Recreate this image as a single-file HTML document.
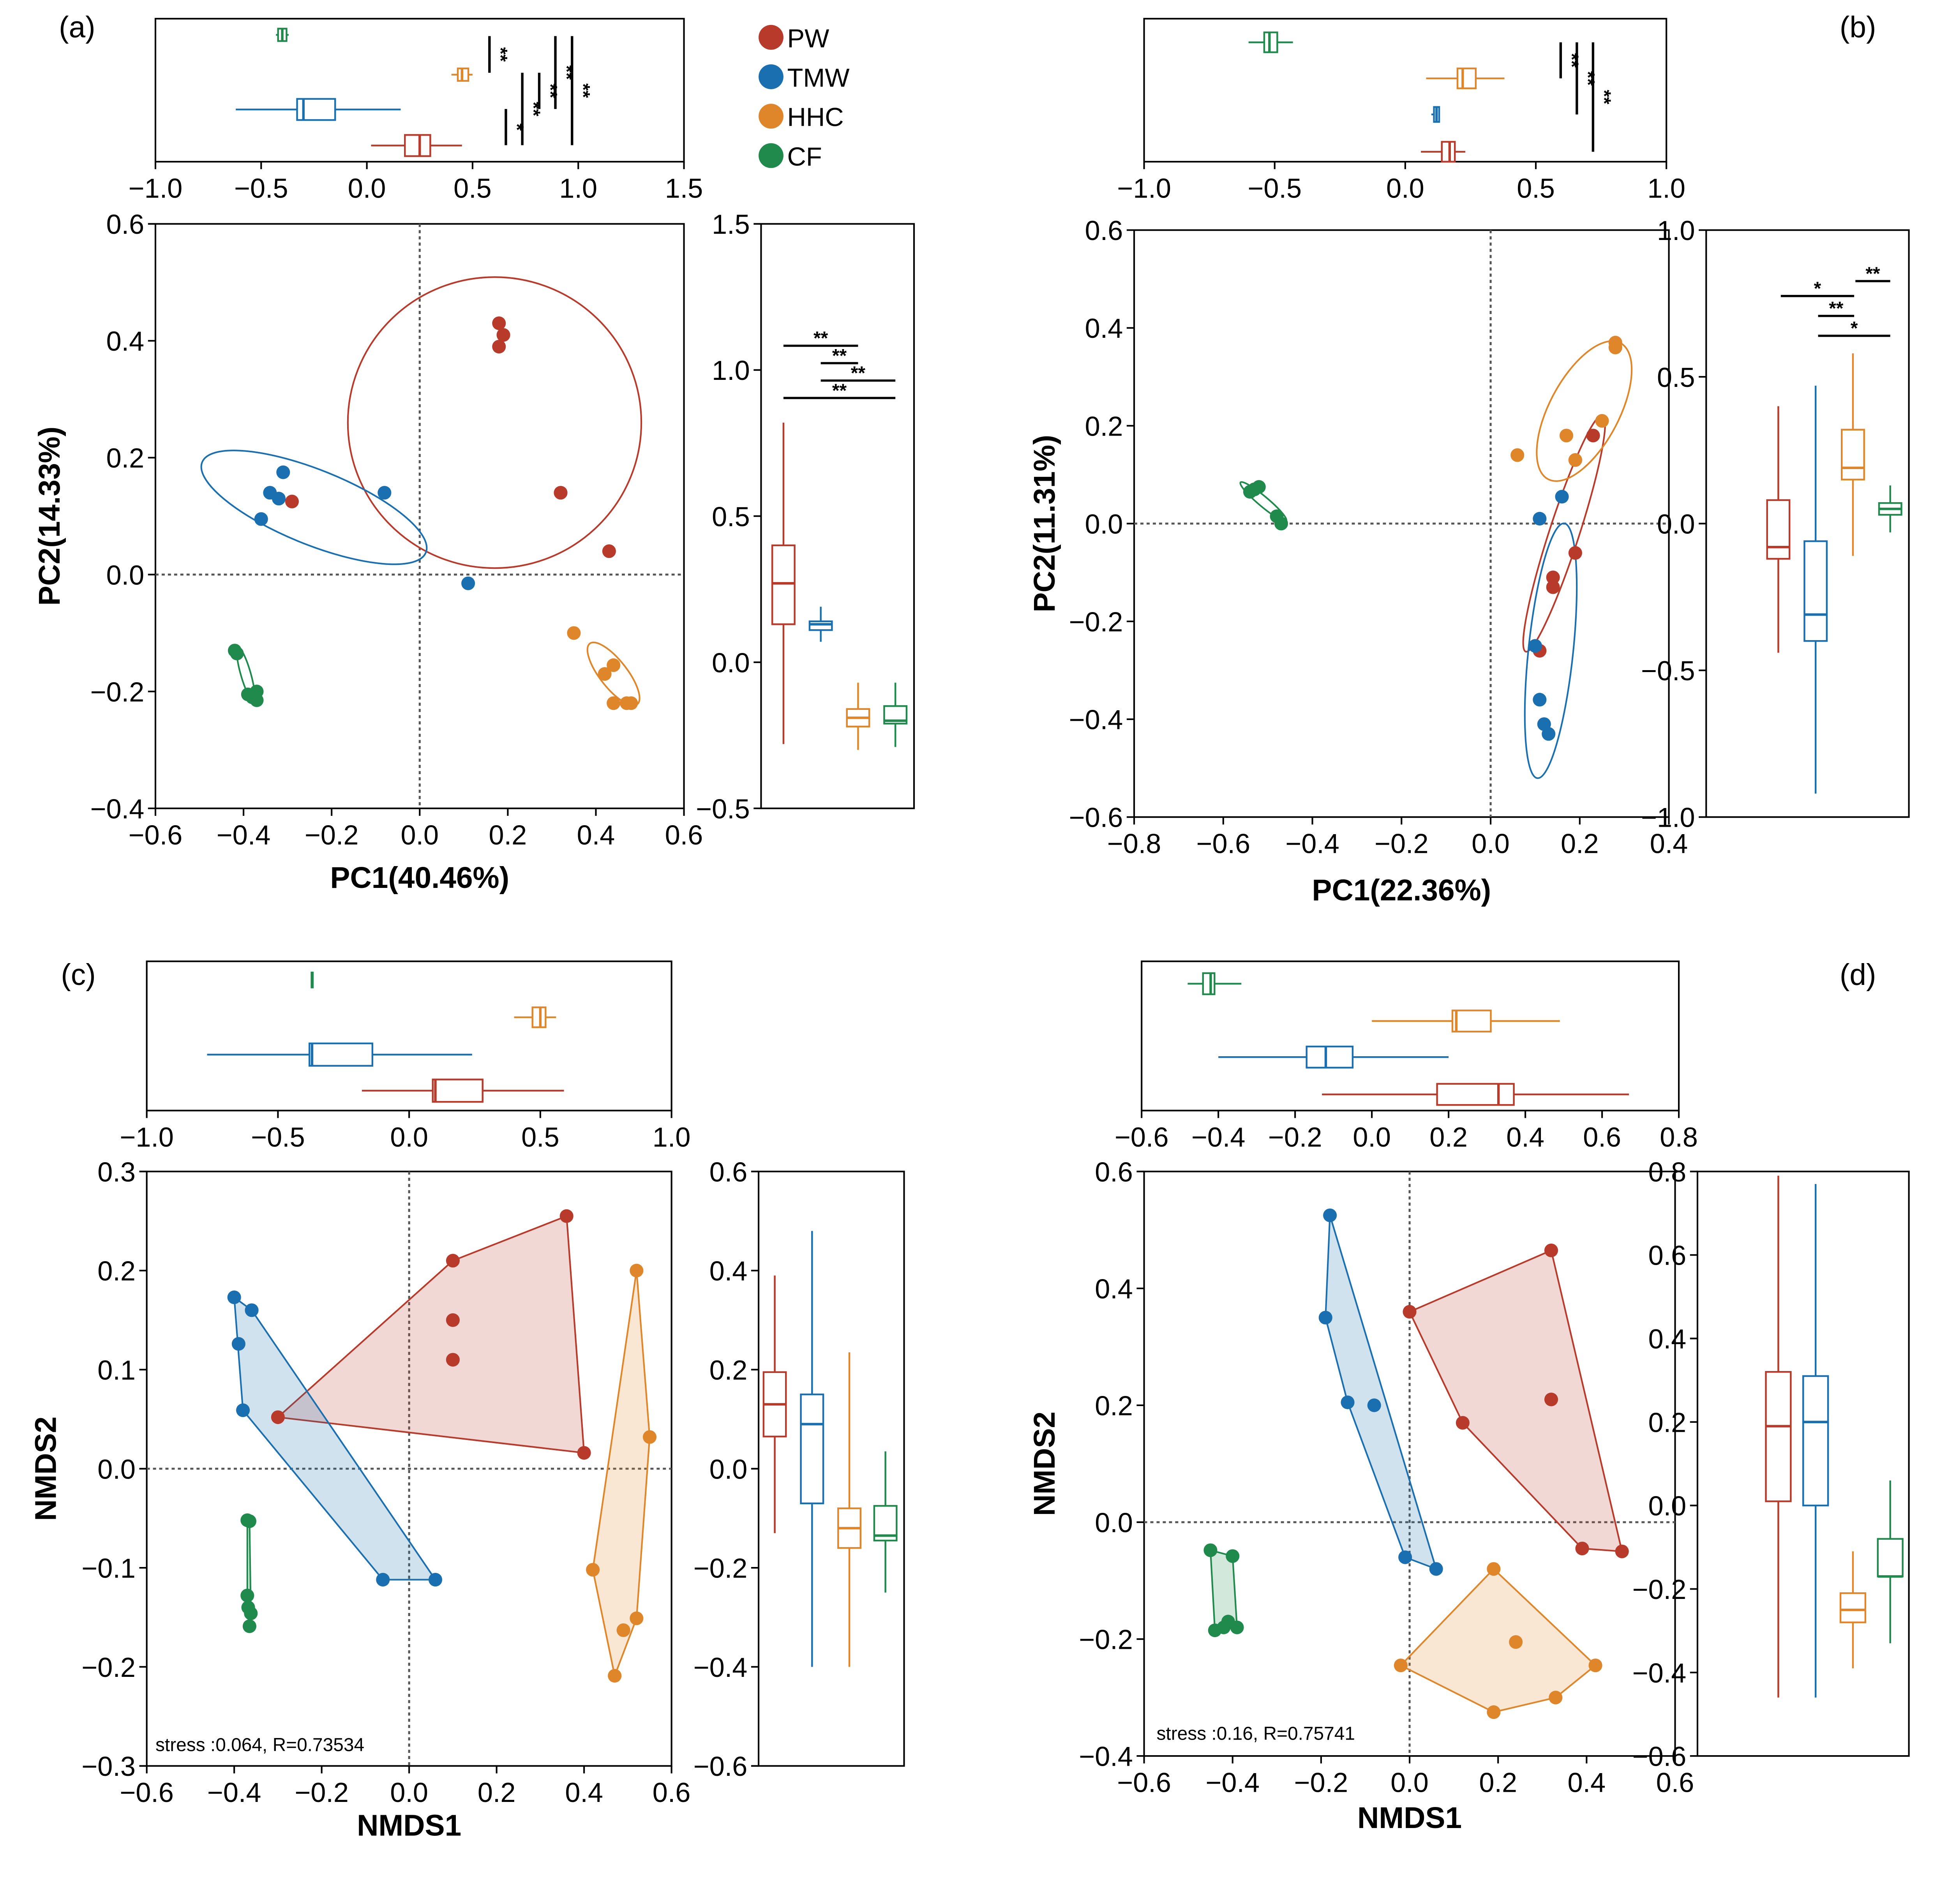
<!DOCTYPE html>
<html><head><meta charset="utf-8">
<style>
html,body{margin:0;padding:0;background:#fff;}
svg{display:block;font-family:"Liberation Sans",Arial,sans-serif;}
</style></head>
<body>
<svg id="chart" width="5139" height="4887" viewBox="0 0 1610 1531" xmlns="http://www.w3.org/2000/svg"></svg>
<script>
// ---------- DATA ----------
const groups = ['PW','TMW','HHC','CF'];
const colors = ['#b83a2b','#1a6fb0','#e0862a','#1f8a4c'];

// Panel (a) PCoA scatter
const aPW  = [[0.18,0.43],[0.19,0.41],[0.18,0.39],[0.32,0.14],[0.43,0.04],[-0.29,0.125]];
const aTMW = [[-0.31,0.175],[-0.34,0.14],[-0.32,0.13],[-0.36,0.095],[-0.08,0.14],[0.11,-0.015]];
const aHHC = [[0.35,-0.10],[0.42,-0.17],[0.44,-0.155],[0.44,-0.22],[0.47,-0.22],[0.48,-0.22]];
const aCF  = [[-0.42,-0.13],[-0.415,-0.135],[-0.39,-0.205],[-0.37,-0.20],[-0.37,-0.215],[-0.38,-0.21]];
// ellipses: [cx, cy (data), rx, ry (px), rotation deg]
const aEll = [[0.17,0.26,118,117,0],[-0.24,0.115,97,30,22],[0.44,-0.17,31,11,52],[-0.395,-0.17,22,4,74]];
// box stats [whiskLo, q1, med, q3, whiskHi]
const aTop = [[0.02,0.18,0.25,0.30,0.45],[-0.62,-0.33,-0.30,-0.15,0.16],[0.40,0.43,0.45,0.48,0.50],[-0.43,-0.42,-0.40,-0.38,-0.37]];
const aRight = [[-0.28,0.13,0.27,0.40,0.82],[0.07,0.11,0.13,0.14,0.19],[-0.30,-0.22,-0.19,-0.16,-0.07],[-0.29,-0.21,-0.20,-0.15,-0.07]];

// Panel (b)
const bPW  = [[0.23,0.18],[0.19,0.13],[0.19,-0.06],[0.14,-0.11],[0.14,-0.13],[0.11,-0.26]];
const bTMW = [[0.11,0.01],[0.16,0.055],[0.10,-0.25],[0.11,-0.36],[0.12,-0.41],[0.13,-0.43]];
const bHHC = [[0.06,0.14],[0.17,0.18],[0.19,0.13],[0.25,0.21],[0.28,0.37],[0.28,0.36]];
const bCF  = [[-0.53,0.07],[-0.52,0.075],[-0.54,0.065],[-0.48,0.015],[-0.47,0.0],[-0.53,0.07]];
const bEll = [[0.165,-0.02,12,100,18],[0.135,-0.26,18,103,6],[0.21,0.23,28,62,28],[-0.51,0.045,24,4,40]];
const bTop = [[0.06,0.14,0.17,0.19,0.23],[0.10,0.11,0.12,0.13,0.13],[0.08,0.20,0.22,0.27,0.38],[-0.60,-0.54,-0.52,-0.49,-0.43]];
const bRight = [[-0.44,-0.12,-0.08,0.08,0.40],[-0.92,-0.40,-0.31,-0.06,0.47],[-0.11,0.15,0.19,0.32,0.58],[-0.03,0.03,0.05,0.07,0.13]];

// Panel (c) NMDS
const cPW  = [[0.36,0.255],[0.1,0.21],[0.1,0.15],[0.1,0.11],[-0.3,0.052],[0.4,0.016]];
const cTMW = [[-0.4,0.173],[-0.36,0.16],[-0.39,0.126],[-0.38,0.059],[-0.06,-0.112],[0.06,-0.112]];
const cHHC = [[0.52,0.2],[0.55,0.032],[0.42,-0.102],[0.52,-0.151],[0.49,-0.163],[0.47,-0.209]];
const cCF  = [[-0.37,-0.052],[-0.365,-0.053],[-0.37,-0.128],[-0.368,-0.14],[-0.362,-0.146],[-0.365,-0.159]];
const cTop = [[-0.18,0.09,0.10,0.28,0.59],[-0.77,-0.38,-0.37,-0.14,0.24],[0.40,0.47,0.50,0.52,0.56],[-0.375,-0.372,-0.37,-0.368,-0.365]];
const cRight = [[-0.13,0.065,0.13,0.195,0.39],[-0.40,-0.07,0.09,0.15,0.48],[-0.40,-0.16,-0.12,-0.08,0.235],[-0.25,-0.145,-0.135,-0.075,0.035]];

// Panel (d)
const dPW  = [[0.32,0.465],[0.0,0.36],[0.32,0.21],[0.12,0.17],[0.39,-0.045],[0.48,-0.05]];
const dTMW = [[-0.18,0.525],[-0.19,0.35],[-0.14,0.205],[-0.08,0.2],[-0.01,-0.06],[0.06,-0.08]];
const dHHC = [[0.19,-0.08],[0.24,-0.205],[0.42,-0.245],[-0.02,-0.245],[0.33,-0.3],[0.19,-0.325]];
const dCF  = [[-0.45,-0.048],[-0.4,-0.058],[-0.41,-0.17],[-0.44,-0.185],[-0.39,-0.18],[-0.42,-0.18]];
const dTop = [[-0.13,0.17,0.33,0.37,0.67],[-0.40,-0.17,-0.12,-0.05,0.20],[0.0,0.21,0.22,0.31,0.49],[-0.48,-0.44,-0.42,-0.41,-0.34]];
const dRight = [[-0.46,0.01,0.19,0.32,0.79],[-0.46,0.0,0.20,0.31,0.77],[-0.39,-0.28,-0.25,-0.21,-0.11],[-0.33,-0.17,-0.17,-0.08,0.06]];

// Tick labels
const aXT=[-0.6,-0.4,-0.2,0,0.2,0.4,0.6], aYT=[-0.4,-0.2,0,0.2,0.4,0.6], aTopT=[-1,-0.5,0,0.5,1,1.5], aRT=[-0.5,0,0.5,1,1.5];
const bXT=[-0.8,-0.6,-0.4,-0.2,0,0.2,0.4], bYT=[-0.6,-0.4,-0.2,0,0.2,0.4,0.6], bTopT=[-1,-0.5,0,0.5,1], bRT=[-1,-0.5,0,0.5,1];
const cXT=[-0.6,-0.4,-0.2,0,0.2,0.4,0.6], cYT=[-0.3,-0.2,-0.1,0,0.1,0.2,0.3], cTopT=[-1,-0.5,0,0.5,1], cRT=[-0.6,-0.4,-0.2,0,0.2,0.4,0.6];
const dXT=[-0.6,-0.4,-0.2,0,0.2,0.4,0.6], dYT=[-0.4,-0.2,0,0.2,0.4,0.6], dTopT=[-0.6,-0.4,-0.2,0,0.2,0.4,0.6,0.8], dRT=[-0.6,-0.4,-0.2,0,0.2,0.4,0.6,0.8];

// ---------- DRAWING ----------
const svg=document.getElementById('chart');
const NS='http://www.w3.org/2000/svg';
function mk(tag,attrs,parent){const e=document.createElementNS(NS,tag);for(const k in attrs)e.setAttribute(k,attrs[k]);(parent||svg).appendChild(e);return e;}
function lin(d0,d1,p0,p1){return v=>p0+(v-d0)/(d1-d0)*(p1-p0);}
function fmt(v){return (Math.abs(v)<1e-9?'0.0':v.toFixed(1)).replace('-','\u2212');}
function txt(x,y,s,size,anchor,name,extra){const t=mk('text',Object.assign({x:x,y:y,'font-size':size,'text-anchor':anchor||'middle',fill:'#000'},extra||{}));t.textContent=s;


return t;}
function frame(x0,y0,x1,y1,name){const r=mk('rect',{x:x0,y:y0,width:x1-x0,height:y1-y0,fill:'none',stroke:'#000','stroke-width':1.3});

}
function xTicks(ticks,xs,y,name){ticks.forEach(v=>{const x=xs(v);const l=mk('line',{x1:x,x2:x,y1:y,y2:y+6,stroke:'#000','stroke-width':1.3});


txt(x,y+29,fmt(v),22,'middle',name+'-label');});}
function yTicks(ticks,ys,x,name){ticks.forEach(v=>{const y=ys(v);const l=mk('line',{x1:x-6,x2:x,y1:y,y2:y,stroke:'#000','stroke-width':1.3});


txt(x-9,y+8,fmt(v),22,'end',name+'-label');});}
function dotted(x1,y1,x2,y2,name){const l=mk('line',{x1:x1,y1:y1,x2:x2,y2:y2,stroke:'#555','stroke-width':1.6,'stroke-dasharray':'2.5,2.5'});

}
function points(arr,xs,ys,color,name){arr.forEach(p=>{const c=mk('circle',{cx:xs(p[0]),cy:ys(p[1]),r:5.5,fill:color});

});}
function ellipse(e,xs,ys,color,name){const el=mk('ellipse',{cx:0,cy:0,rx:e[2],ry:e[3],fill:'none',stroke:color,'stroke-width':1.3,transform:`translate(${xs(e[0])},${ys(e[1])}) rotate(${e[4]})`});

}
function hull(arr,xs,ys,color,name){let p=arr.map(q=>[xs(q[0]),ys(q[1])]).sort((a,b)=>a[0]-b[0]||a[1]-b[1]);
const cr=(o,a,b)=>(a[0]-o[0])*(b[1]-o[1])-(a[1]-o[1])*(b[0]-o[0]);const lo=[],up=[];
for(const q of p){while(lo.length>=2&&cr(lo[lo.length-2],lo[lo.length-1],q)<=0)lo.pop();lo.push(q);}
for(const q of p.slice().reverse()){while(up.length>=2&&cr(up[up.length-2],up[up.length-1],q)<=0)up.pop();up.push(q);}
const h=lo.slice(0,-1).concat(up.slice(0,-1));
const pg=mk('polygon',{points:h.map(q=>q.join(',')).join(' '),fill:color,'fill-opacity':0.2,stroke:color,'stroke-width':1.3});

}
function hbox(s,xs,yc,h,color,name){const g=mk('g',{stroke:color,'stroke-width':1.4,fill:'none'});


mk('line',{x1:xs(s[0]),x2:xs(s[1]),y1:yc,y2:yc},g);mk('line',{x1:xs(s[3]),x2:xs(s[4]),y1:yc,y2:yc},g);
mk('rect',{x:xs(s[1]),y:yc-h/2,width:Math.max(1,xs(s[3])-xs(s[1])),height:h},g);
mk('line',{x1:xs(s[2]),x2:xs(s[2]),y1:yc-h/2,y2:yc+h/2,'stroke-width':2},g);}
function vbox(s,ys,xc,w,color,name){const g=mk('g',{stroke:color,'stroke-width':1.4,fill:'none'});


mk('line',{y1:ys(s[0]),y2:ys(s[1]),x1:xc,x2:xc},g);mk('line',{y1:ys(s[3]),y2:ys(s[4]),x1:xc,x2:xc},g);
mk('rect',{y:ys(s[3]),x:xc-w/2,height:Math.max(1,ys(s[1])-ys(s[3])),width:w},g);
mk('line',{y1:ys(s[2]),y2:ys(s[2]),x1:xc-w/2,x2:xc+w/2,'stroke-width':2},g);}
function vbr(x,y1,y2,lab,name){const l=mk('line',{x1:x,x2:x,y1:y1,y2:y2,stroke:'#000','stroke-width':2});


const cy=(y1+y2)/2;txt(0,0,lab,15,'middle',name+'-label',{transform:`translate(${x+4},${cy}) rotate(90)`,'font-weight':'bold'});}
function hbr(y,x1,x2,lab,name){const l=mk('line',{x1:x1,x2:x2,y1:y,y2:y,stroke:'#000','stroke-width':1.8});


txt((x1+x2)/2,y-1,lab,15,'middle',name+'-label',{'font-weight':'bold'});}

function panel(P){
  const xs=lin(P.xr[0],P.xr[1],P.m[0],P.m[2]), ys=lin(P.yr[0],P.yr[1],P.m[3],P.m[1]);
  frame(P.m[0],P.m[1],P.m[2],P.m[3],P.id+'-main-plot-frame');
  dotted(xs(0),P.m[1],xs(0),P.m[3],P.id+'-zero-vline');
  dotted(P.m[0],ys(0),P.m[2],ys(0),P.id+'-zero-hline');
  xTicks(P.xt,xs,P.m[3],P.id+'-x-axis');yTicks(P.yt,ys,P.m[0],P.id+'-y-axis');
  if(P.hull){P.series.forEach((s,i)=>hull(s,xs,ys,colors[i],P.id+'-hull-'+groups[i].toLowerCase()));}
  if(P.ell){P.ell.forEach((e,i)=>ellipse(e,xs,ys,colors[i],P.id+'-ellipse-'+groups[i].toLowerCase()));}
  P.series.forEach((s,i)=>points(s,xs,ys,colors[i],P.id+'-point-'+groups[i].toLowerCase()));
  const txs=lin(P.tr[0],P.tr[1],P.t[0],P.t[2]);
  frame(P.t[0],P.t[1],P.t[2],P.t[3],P.id+'-top-box-frame');
  xTicks(P.tt,txs,P.t[3],P.id+'-top-axis');
  const order=[3,2,1,0];order.forEach((gi,k)=>{hbox(P.top[gi],txs,P.tyc[k],P.th[k],colors[gi],P.id+'-top-boxplot-'+groups[gi].toLowerCase());});
  const rys=lin(P.rr[0],P.rr[1],P.r[3],P.r[1]);
  frame(P.r[0],P.r[1],P.r[2],P.r[3],P.id+'-right-box-frame');
  yTicks(P.rt,rys,P.r[0],P.id+'-right-axis');
  P.right.forEach((s,i)=>vbox(s,rys,P.rxc[i],P.rw,colors[i],P.id+'-right-boxplot-'+groups[i].toLowerCase()));
  txt((P.m[0]+P.m[2])/2,P.xtitleY,P.xtitle,24,'middle',P.id+'-x-axis-title',{'font-weight':'bold'});
  txt(0,0,P.ytitle,24,'middle',P.id+'-y-axis-title',{'font-weight':'bold',transform:`translate(${P.ytitleX},${(P.m[1]+P.m[3])/2}) rotate(-90)`});
  txt(P.lab[0],P.lab[1],P.lab[2],24,'middle',P.id+'-panel-label');
}

panel({id:'a',m:[125,180,550,650],xr:[-0.6,0.6],yr:[-0.4,0.6],xt:aXT,yt:aYT,series:[aPW,aTMW,aHHC,aCF],ell:aEll,
 t:[125,15,550,130],tr:[-1,1.5],tt:aTopT,top:aTop,tyc:[28,60,88,117],th:[10,10,17,17],
 r:[612,180,735,650],rr:[-0.5,1.5],rt:aRT,right:aRight,rxc:[630,660,690,720],rw:18,
 xtitle:'PC1(40.46%)',xtitleY:714,ytitle:'PC2(14.33%)',ytitleX:48,lab:[62,30,'(a)']});
panel({id:'b',m:[912,185,1342,657],xr:[-0.8,0.4],yr:[-0.6,0.6],xt:bXT,yt:bYT,series:[bPW,bTMW,bHHC,bCF],ell:bEll,
 t:[920,15,1340,130],tr:[-1,1],tt:bTopT,top:bTop,tyc:[34,63,92,122],th:[16,16,12,16],
 r:[1372,185,1535,657],rr:[-1,1],rt:bRT,right:bRight,rxc:[1430,1460,1490,1520],rw:18,
 xtitle:'PC1(22.36%)',xtitleY:724,ytitle:'PC2(11.31%)',ytitleX:848,lab:[1494,30,'(b)']});
panel({id:'c',m:[118,942,540,1420],xr:[-0.6,0.6],yr:[-0.3,0.3],xt:cXT,yt:cYT,series:[cPW,cTMW,cHHC,cCF],hull:true,
 t:[118,773,540,893],tr:[-1,1],tt:cTopT,top:cTop,tyc:[788,818,848,877],th:[12,16,18,18],
 r:[610,942,727,1420],rr:[-0.6,0.6],rt:cRT,right:cRight,rxc:[623,653,683,712],rw:18,
 xtitle:'NMDS1',xtitleY:1476,ytitle:'NMDS2',ytitleX:45,lab:[63,792,'(c)']});
panel({id:'d',m:[920,942,1347,1412],xr:[-0.6,0.6],yr:[-0.4,0.6],xt:dXT,yt:dYT,series:[dPW,dTMW,dHHC,dCF],hull:true,
 t:[918,773,1350,893],tr:[-0.6,0.8],tt:dTopT,top:dTop,tyc:[791,821,850,880],th:[17,17,17,17],
 r:[1365,942,1535,1412],rr:[-0.6,0.8],rt:dRT,right:dRight,rxc:[1430,1460,1490,1520],rw:20,
 xtitle:'NMDS1',xtitleY:1470,ytitle:'NMDS2',ytitleX:848,lab:[1494,792,'(d)']});

vbr(393.6,29,58.5,'**','a-top-sig-cf-hhc');
vbr(406.8,87.6,116.7,'*','a-top-sig-tmw-pw');
vbr(420,58.5,116.7,'**','a-top-sig-hhc-pw');
vbr(433.6,58.5,87.6,'**','a-top-sig-hhc-tmw');
vbr(446.6,29,87.6,'**','a-top-sig-cf-tmw');
vbr(460,29,116.7,'**','a-top-sig-cf-pw');
hbr(278,630,690,'**','a-right-sig-pw-hhc');
hbr(292,660,690,'**','a-right-sig-tmw-hhc');
hbr(306,660,720,'**','a-right-sig-tmw-cf');
hbr(320,630,720,'**','a-right-sig-pw-cf');
vbr(1255,34,63,'**','b-top-sig-cf-hhc');
vbr(1268,34,92,'**','b-top-sig-cf-tmw');
vbr(1281,34,122,'**','b-top-sig-cf-pw');
hbr(226,1492,1520,'**','b-right-sig-hhc-cf');
hbr(238,1432,1491,'*','b-right-sig-pw-hhc');
hbr(254,1462,1491,'**','b-right-sig-tmw-hhc');
hbr(270,1462,1520,'*','b-right-sig-tmw-cf');

groups.forEach((g,i)=>{const y=30+i*31.7;const c=mk('circle',{cx:620,cy:y,r:10,fill:colors[i]});


txt(633,y+8,g,21,'start','legend-label-'+g.toLowerCase());});

txt(125,1408,'stress :0.064, R=0.73534',15,'start','c-stress-annotation');
txt(930,1399,'stress :0.16, R=0.75741',15,'start','d-stress-annotation');
</script>
</body></html>
